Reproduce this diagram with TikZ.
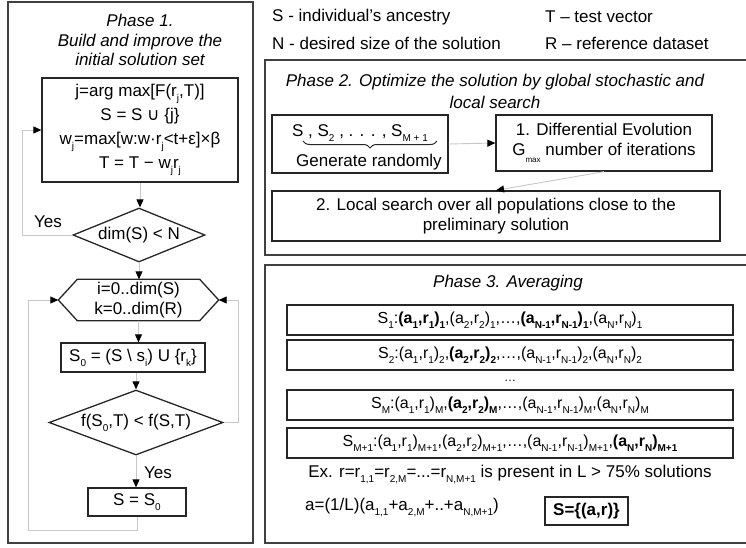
\documentclass[tikz,border=0pt]{standalone}
\usepackage{fontspec}
\setmainfont{Liberation Sans}
\newfontfamily\djv{DejaVu Sans}
\usetikzlibrary{arrows.meta,shapes.geometric,calc,decorations.pathreplacing}
\newcommand{\lo}[1]{\raisebox{-5pt}{\fontsize{10}{10}\selectfont #1}}
\newcommand{\tinylo}[1]{\raisebox{-7pt}{\fontsize{8}{8}\selectfont #1}}
\begin{document}
\begin{tikzpicture}[x=1pt,y=-1pt,
  font=\fontsize{17}{20}\selectfont,
  panel/.style={draw=black!75, line width=1.6pt},
  box/.style={draw=black!85, line width=1.3pt, rectangle, inner sep=0pt, align=center},
  shapeline/.style={draw=black!85, line width=1.3pt},
  dia/.style={diamond, draw=black!85, line width=1.3pt, inner sep=0pt, align=center},
  conn/.style={draw=black!22, line width=0.9pt, -{Triangle[black,length=8pt,width=7pt]}},
  brc/.style={draw=black!85, line width=1pt, decorate, decoration={brace, amplitude=7pt}},
  txt/.style={inner sep=0pt, align=center},
  rowbox/.style={box, minimum width=446pt, minimum height=30pt, font=\fontsize{16}{18}\selectfont}
]
\useasboundingbox (0,0) rectangle (746,547);

% ---------- Phase 1 ----------
\draw[panel] (8,2) rectangle (253,543);
\node[txt, font=\itshape\fontsize{17}{19.5}\selectfont] (t1) at (140,40)
  {Phase 1.\\Build and improve the\\initial solution set};

\node[box, minimum width=196pt, minimum height=104pt, font=\fontsize{17}{24}\selectfont] (b1) at (140,130)
  {j=arg max[F(r\lo{j},T)]\\S = S {\djv ∪} \{j\}\\w\lo{j}=max[w:w·r\lo{j}<t+ε]×β\\T = T − w\lo{j}r\lo{j}};

\node[dia, minimum width=132pt, minimum height=54pt, aspect=2.44] (d1) at (139,235) {dim(S) < N};

\node[txt, minimum width=160pt, minimum height=41pt] (hex) at (138.5,300) {i=0..dim(S)\\k=0..dim(R)};
\draw[shapeline] (hex.west) -- ($(hex.north west)+(19,0)$) -- ($(hex.north east)+(-19,0)$)
  -- (hex.east) -- ($(hex.south east)+(-19,0)$) -- ($(hex.south west)+(19,0)$) -- cycle;

\node[box, minimum width=144pt, minimum height=29pt] (s0) at (133,357.5)
  {S\lo{0} = (S \textbackslash{} s\lo{i}) U \{r\lo{k}\}};

\node[dia, minimum width=174pt, minimum height=65pt, aspect=2.68] (d2) at (136,422.5) {f(S\lo{0},T) < f(S,T)};

\node[box, minimum width=98pt, minimum height=28pt] (sb) at (137,502) {S = S\lo{0}};

\coordinate (yl) at (22,130);
\coordinate (rl) at (238,300);
\coordinate (bl1) at (137,530);
\coordinate (bl2) at (28,300);

\draw[conn] (b1.south) -- (b1.south |- d1.north);
\draw[conn] (d1.west) -| (yl) -- (b1.west);
\node[txt] (yes1) at (48,222) {Yes};
\draw[conn] (d1.south) -- (d1.south |- hex.north);
\draw[conn] (hex.south) -- (hex.south |- s0.north);
\draw[conn] (s0.south -| d2.north) -- (d2.north);
\draw[conn] (d2.south) -- (d2.south |- sb.north);
\node[txt] (yes2) at (158,473) {Yes};
\draw[conn] (d2.east) -| (rl) -- (hex.east);
\draw[conn] (sb.south) -- (bl1) -| (bl2) -- (hex.west);

% ---------- Legend ----------
\node[txt, anchor=west] (l1) at (272,17) {S - individual’s ancestry};
\node[txt, anchor=west] (l2) at (272,43) {N - desired size of the solution};
\node[txt, anchor=west] (l3) at (545,17) {T – test vector};
\node[txt, anchor=west] (l4) at (545,43) {R – reference dataset};

% ---------- Phase 2 ----------
\draw[panel] (760,60) -- (265,60) -- (265,255) -- (760,255);
\node[txt, font=\itshape\fontsize{17}{22}\selectfont] (t2) at (495,91)
  {Phase 2. Optimize the solution by global stochastic and\\local search};

\node[box, minimum width=176pt, minimum height=58pt] (ga) at (360,144) {};
\node[txt] (gs) at (360,133) {S , S\lo{2} , . . . , S\lo{M + 1}};
\coordinate (brA) at (437,141);
\coordinate (brB) at (303,141);
\draw[brc] (brA) -- (brB);
\node[txt] (gr) at (369,162) {Generate randomly};

\node[box, minimum width=216pt, minimum height=56pt] (de) at (604,143)
  {1. Differential Evolution\\G\tinylo{max} number of iterations};

\node[box, minimum width=448pt, minimum height=50pt] (lc) at (496,216)
  {2. Local search over all populations close to the\\preliminary solution};

\draw[conn] (ga.east) -- (de.west);
\draw[conn] (de.south) -- (lc.north);

% ---------- Phase 3 ----------
\draw[panel] (760,265) -- (265,265) -- (265,543) -- (760,543);
\node[txt, font=\itshape\fontsize{17}{20}\selectfont] (t3) at (508,283) {Phase 3. Averaging};

\node[rowbox] (r1) at (510,320)
  {S\lo{1}:\textbf{(a\lo{1},r\lo{1})\lo{1}},(a\lo{2},r\lo{2})\lo{1},…,\textbf{(a\lo{N-1},r\lo{N-1})\lo{1}},(a\lo{N},r\lo{N})\lo{1}};
\node[rowbox] (r2) at (510,355)
  {S\lo{2}:(a\lo{1},r\lo{1})\lo{2},\textbf{(a\lo{2},r\lo{2})\lo{2}},…,(a\lo{N-1},r\lo{N-1})\lo{2},(a\lo{N},r\lo{N})\lo{2}};
\node[txt, font=\fontsize{12}{12}\selectfont] (dots) at (510,381) {…};
\node[rowbox] (r3) at (510,405)
  {S\lo{M}:(a\lo{1},r\lo{1})\lo{M},\textbf{(a\lo{2},r\lo{2})\lo{M}},…,(a\lo{N-1},r\lo{N-1})\lo{M},(a\lo{N},r\lo{N})\lo{M}};
\node[rowbox] (r4) at (510,443)
  {S\lo{M+1}:(a\lo{1},r\lo{1})\lo{M+1},(a\lo{2},r\lo{2})\lo{M+1},…,(a\lo{N-1},r\lo{N-1})\lo{M+1},\textbf{(a\lo{N},r\lo{N})\lo{M+1}}};

\node[txt] (ex) at (510,474)
  {Ex. r=r\lo{1,1}=r\lo{2,M}=...=r\lo{N,M+1} is present in L > 75\% solutions};
\node[txt, anchor=west] (av) at (305,507) {a=(1/L)(a\lo{1,1}+a\lo{2,M}+..+a\lo{N,M+1})};
\node[box, minimum width=83pt, minimum height=28pt, font=\bfseries\fontsize{17}{20}\selectfont] (res) at (586.5,511) {S=\{(a,r)\}};
\end{tikzpicture}
\end{document}
